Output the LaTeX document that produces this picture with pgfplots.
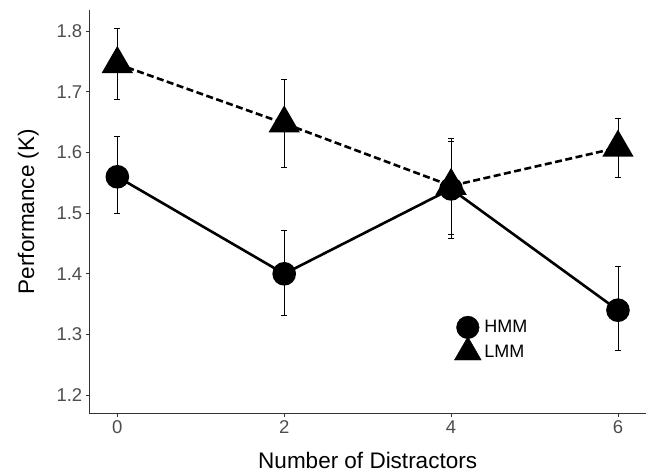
\documentclass[border=0pt]{standalone}
\usepackage{pgfplots}
\pgfplotsset{compat=1.18}
\usepackage{pgfplotstable}
\usepackage{fontspec}
\setmainfont{Liberation Sans}
\definecolor{tickgray}{HTML}{4D4D4D}
\definecolor{axgray}{HTML}{333333}
\pgfplotsset{mylegend/.style={legend image code/.code={\draw[##1, overlay] plot coordinates {(0.3cm,0cm)}; \node[inner sep=0pt, outer sep=0pt, minimum width=0.6cm+6pt, minimum height=0.3cm, anchor=west, draw=none, fill=none] at (0cm,0cm) {};}}}

\pgfplotstableread{
x y ep em
0 1.560 0.067 0.061
2 1.400 0.071 0.069
4 1.540 0.078 0.082
6 1.340 0.0725 0.067
}\hmm
\pgfplotstableread{
x y ep em
0 1.746 0.058 0.059
2 1.648 0.072 0.072
4 1.545 0.079 0.080
6 1.608 0.048 0.049
}\lmm

\begin{document}
\begin{tikzpicture}
\useasboundingbox (-89.3pt,-59.7pt) rectangle (559.7pt,413.3pt);
\begin{axis}[
  scale only axis, width=556.7pt, height=403.3pt,
  xmin=-0.336, xmax=6.336, ymin=1.170, ymax=1.835,
  axis x line*=bottom, axis y line*=left,
  axis line style={axgray, line width=1.1pt},
  xtick={0,2,4,6}, ytick={1.2,1.3,1.4,1.5,1.6,1.7,1.8},
  yticklabel style={/pgf/number format/fixed, /pgf/number format/precision=1, /pgf/number format/fixed zerofill},
  tick align=outside, major tick length=3.5pt, tick style={axgray, line width=0.8pt},
  ticklabel style={font=\fontsize{18.5}{18.5}\selectfont, text=tickgray},
  /pgf/number format/assume math mode=true,
  xlabel={Number of Distractors}, ylabel={Performance (K)},
  label style={font=\fontsize{22.5}{23}\selectfont},
  xlabel style={at={(axis description cs:0.5,-0.1158)}, anchor=center},
  ylabel style={at={(axis description cs:-0.1096,0.5)}, anchor=center},
  legend style={draw=none, fill=none, at={(axis cs:4.06,1.330)}, anchor=north west,
    font=\fontsize{18}{18}\selectfont, row sep=7pt},
  legend cell align=left,
]
\addplot[black, line width=2.6pt, mark=*, mark size=10.5pt, mark options={solid},
  forget plot,
  error bars/.cd, y dir=both, y explicit,
  error bar style={line width=0.8pt, solid},
  error mark options={rotate=90, mark size=3pt, line width=0.8pt}]
  table[x=x, y=y, y error plus=ep, y error minus=em] {\hmm};
\addplot[black, line width=2.6pt, dash pattern=on 7pt off 3.5pt, mark=triangle*, mark size=15.5pt, mark options={solid},
  forget plot,
  error bars/.cd, y dir=both, y explicit,
  error bar style={line width=0.8pt, solid},
  error mark options={rotate=90, mark size=3pt, line width=0.8pt}]
  table[x=x, y=y, y error plus=ep, y error minus=em] {\lmm};
\addlegendimage{black, only marks, mark=*, mark size=11.3pt, mylegend}
\addlegendentry{HMM}
\addlegendimage{black, only marks, mark=triangle*, mark size=15.5pt, mylegend}
\addlegendentry{LMM}
\end{axis}
\end{tikzpicture}
\end{document}
